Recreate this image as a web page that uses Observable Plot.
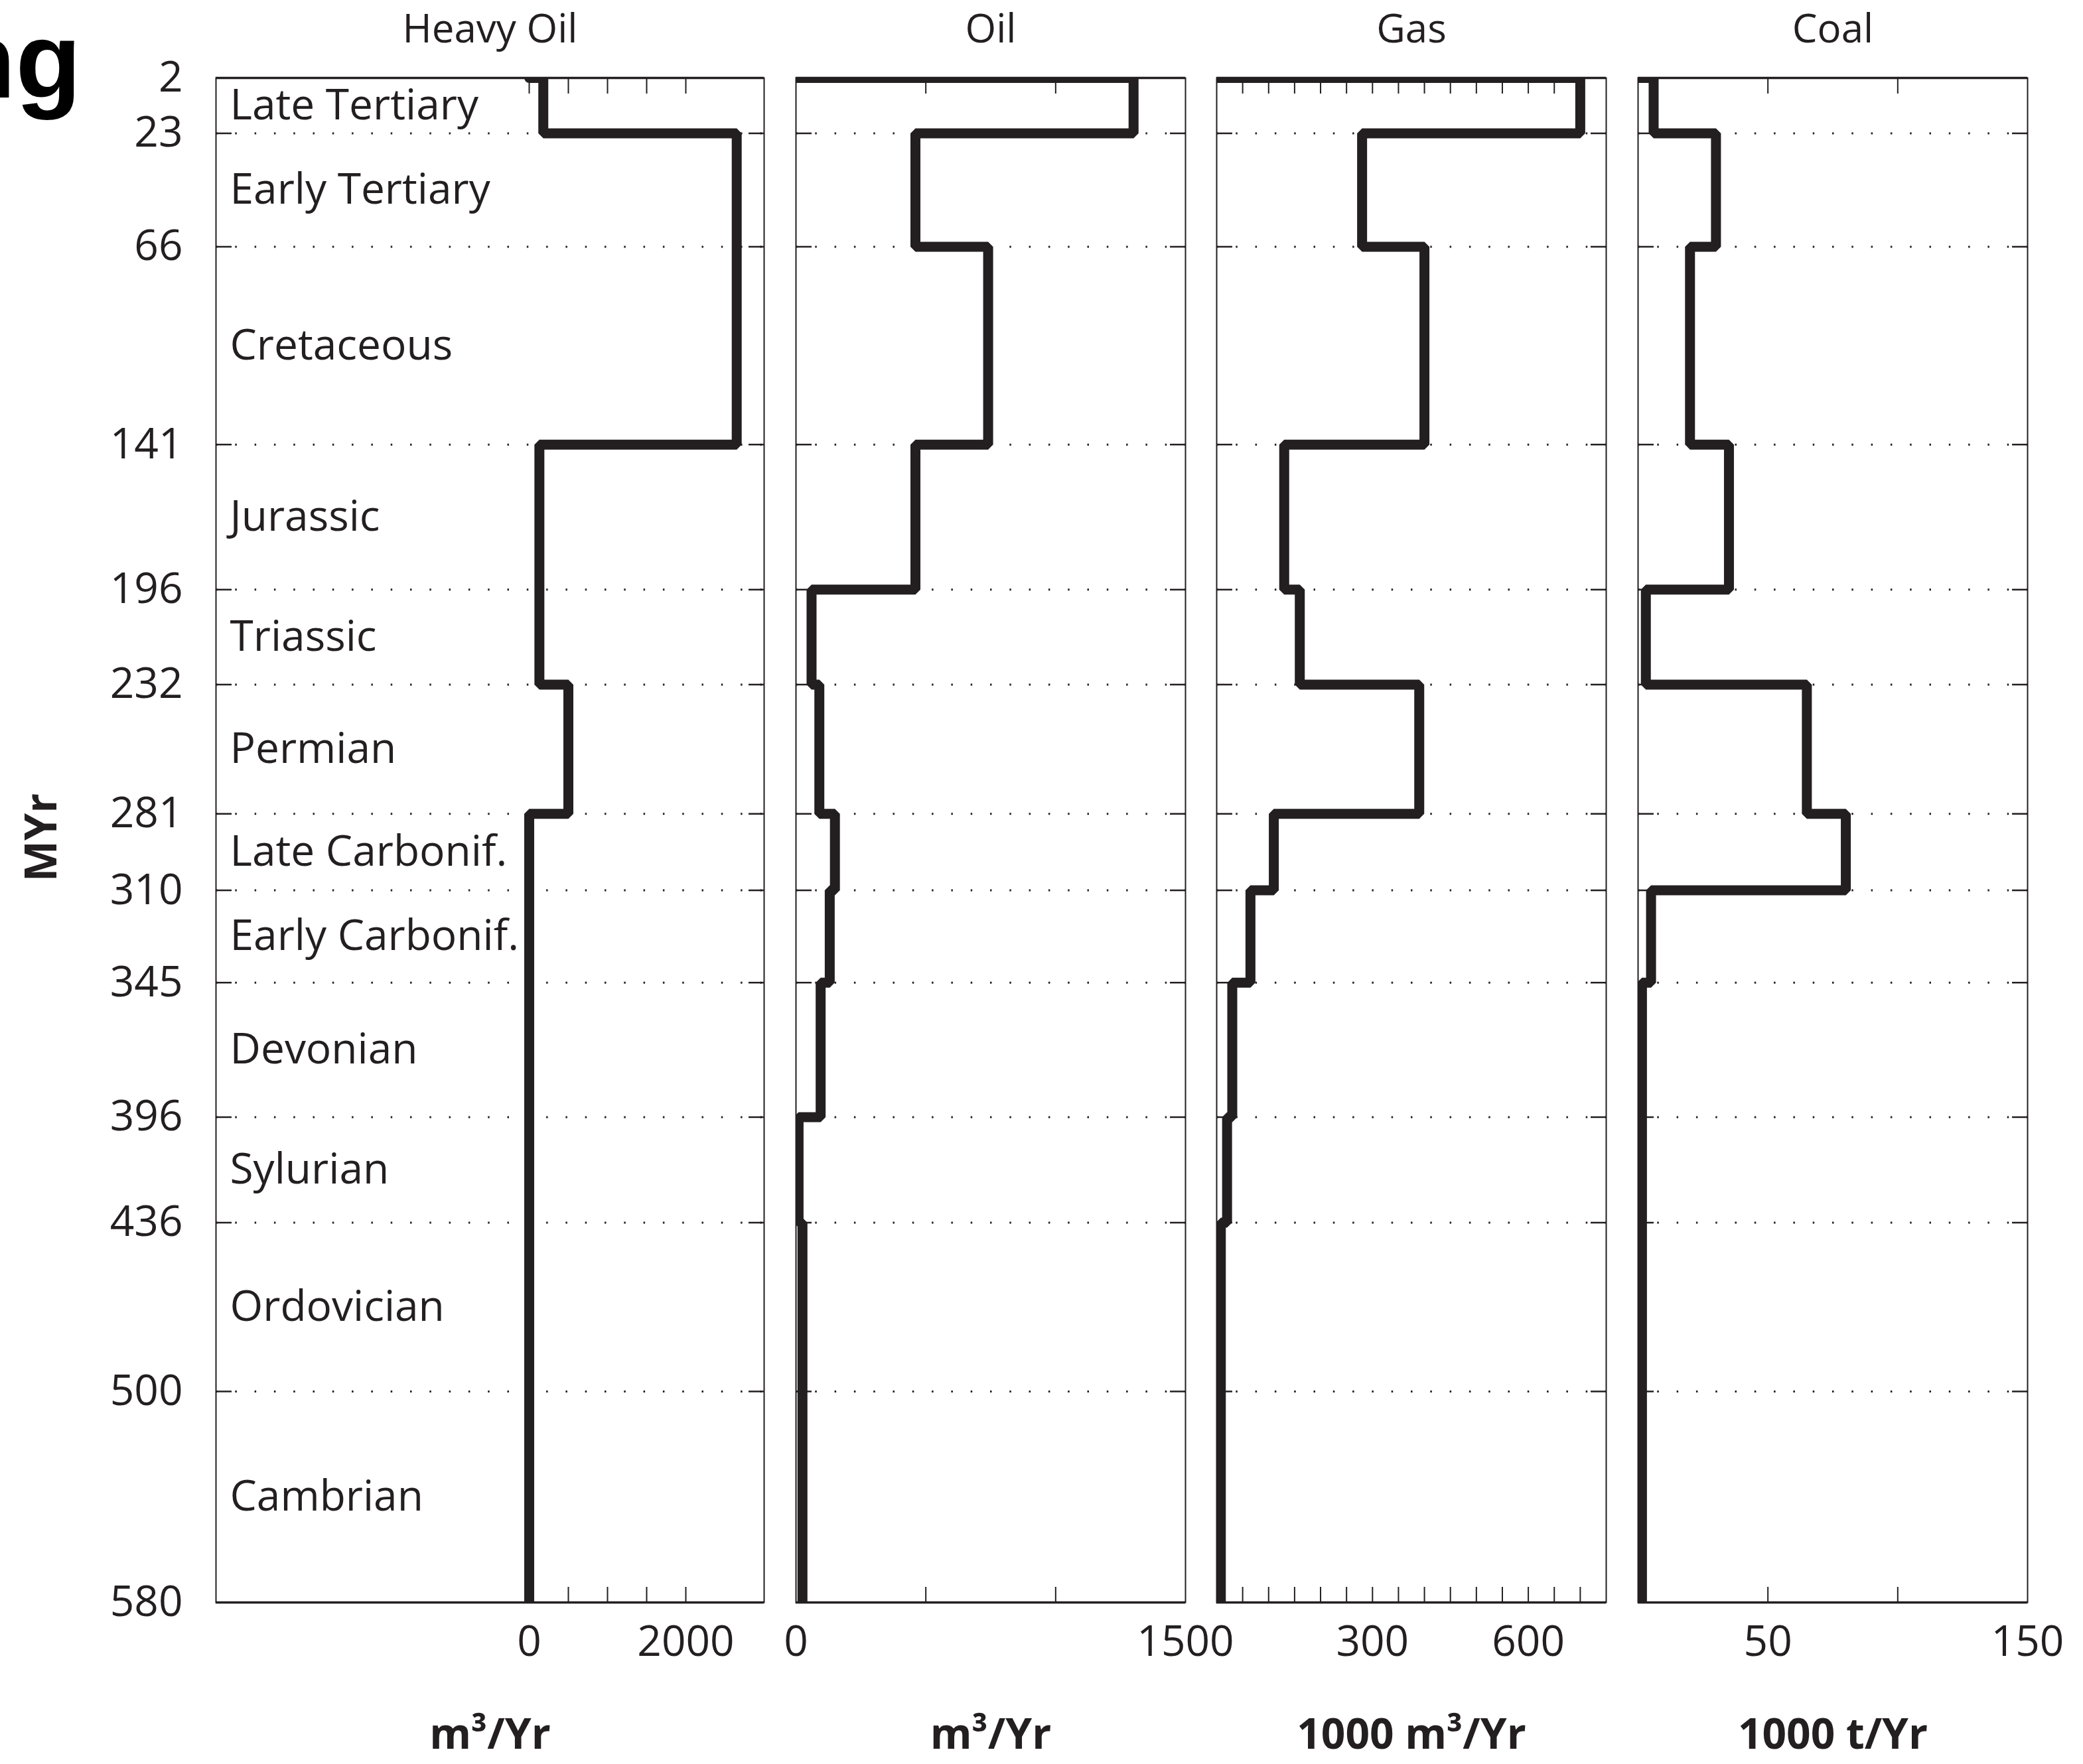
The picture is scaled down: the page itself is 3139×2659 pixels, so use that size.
<!DOCTYPE html>
<html>
<head>
<meta charset="utf-8">
<script src="https://cdn.jsdelivr.net/npm/d3@7"></script>
<script src="https://cdn.jsdelivr.net/npm/@observablehq/plot@0.6"></script>
<style>
html, body { margin: 0; padding: 0; background: #fff; }
#chart { position: relative; width: 3139px; height: 2659px; overflow: hidden; background: #fff; }
#chart svg { position: absolute; left: 0; top: 0; }
</style>
</head>
<body>
<div id="chart"></div>
<script>
// ---------- data ----------
const boundaries = [2, 23, 66, 141, 196, 232, 281, 310, 345, 396, 436, 500, 580];
const periods = ["Late Tertiary", "Early Tertiary", "Cretaceous", "Jurassic", "Triassic", "Permian",
  "Late Carbonif.", "Early Carbonif.", "Devonian", "Sylurian", "Ordovician", "Cambrian"];
const heavyOil = [180, 2650, 2650, 130, 130, 500, 0, 0, 0, 0, 0, 0];
const oil = [1300, 460, 740, 460, 60, 90, 150, 130, 95, 10, 25, 25];
const gas = [700, 280, 400, 130, 160, 390, 110, 65, 30, 20, 8, 8];
const coal = [6, 30, 20, 35, 3, 65, 80, 5, 1.5, 1.5, 1.5, 1.5];

const panelTitles = ["Heavy Oil", "Oil", "Gas", "Coal"];
const unitLabels = ["m³/Yr", "m³/Yr", "1000 m³/Yr", "1000 t/Yr"];
const xDomains = [[-4000, 3000], [0, 1500], [0, 750], [0, 150]];
const xTicks = [
  [0, 500, 1000, 1500, 2000],
  [500, 1000],
  [50, 100, 150, 200, 250, 300, 350, 400, 450, 500, 550, 600, 650, 700],
  [50, 100]
];
const xTickLabels = [[0, 2000], [0, 1500], [300, 600], [50, 150]];
const yAxisLabel = "MYr";
const clippedTitle = "ng";

// ---------- layout ----------
const W = 3139, H = 2659;
const frames = [[325, 1151], [1199, 1786], [1833, 2420], [2468, 3055]];
const ink = "#231f20";
const series = [heavyOil, oil, gas, coal];

function stepPoints(values) {
  const pts = [{x: 0, y: boundaries[0]}];
  values.forEach((v, k) => {
    pts.push({x: v, y: boundaries[k]});
    pts.push({x: v, y: boundaries[k + 1]});
  });
  return pts;
}

const inner = boundaries.slice(1, -1);
const container = document.getElementById("chart");

series.forEach((values, i) => {
  const [fl, fr] = frames[i];
  const marks = [
    Plot.ruleY(inner, {stroke: ink, strokeWidth: 3, strokeDasharray: "2.5,26.8"}),
    Plot.axisY(inner, {anchor: "left", tickSize: -24, tickFormat: () => "", stroke: ink, strokeWidth: 2.5, label: null}),
    Plot.axisY(inner, {anchor: "right", tickSize: -24, tickFormat: () => "", stroke: ink, strokeWidth: 2.5, label: null}),
    Plot.axisX(xTicks[i], {anchor: "top", tickSize: -23, tickFormat: () => "", stroke: ink, strokeWidth: 2, label: null}),
    Plot.axisX(xTicks[i], {anchor: "bottom", tickSize: -23, tickFormat: () => "", stroke: ink, strokeWidth: 2, label: null}),
    Plot.axisX(xTickLabels[i], {anchor: "bottom", tickSize: 0, tickPadding: 35, fontSize: 64, tickFormat: d => String(d), fill: ink, label: null}),
    Plot.frame({stroke: ink, strokeWidth: 2}),
    Plot.ruleY([boundaries[0], boundaries[boundaries.length - 1]], {stroke: ink, strokeWidth: 3.5}),
    Plot.line(stepPoints(values), {x: "x", y: "y", stroke: ink, strokeWidth: 15, strokeLinejoin: "miter", clip: true}),
    Plot.text([panelTitles[i]], {text: d => d, frameAnchor: "top", lineAnchor: "middle", textAnchor: "middle", dy: -73, fontSize: 60, fill: ink}),
    Plot.text([unitLabels[i]], {text: d => d, frameAnchor: "bottom", lineAnchor: "middle", textAnchor: "middle", dy: 200, fontSize: 64, fontWeight: "bold", fill: ink})
  ];
  if (i === 0) {
    marks.push(
      Plot.axisY(boundaries, {anchor: "left", tickSize: 0, tickPadding: 50, fontSize: 64, tickFormat: d => String(d), fill: ink, label: null}),
      Plot.text(periods, {
        y: (d, k) => (boundaries[k] + boundaries[k + 1]) / 2,
        text: d => d, frameAnchor: "left", dx: 21, textAnchor: "start", lineAnchor: "middle", fontSize: 64, fill: ink
      }),
      Plot.text([yAxisLabel], {text: d => d, frameAnchor: "left", textAnchor: "middle", lineAnchor: "middle", dx: -262, dy: -4, rotate: -90, fontSize: 66, fontWeight: "bold", fill: ink}),
      Plot.text([clippedTitle], {text: d => d, frameAnchor: "top-left", lineAnchor: "middle", dx: -203, dy: -22, textAnchor: "end", fontSize: 162, fontWeight: "bold", fontFamily: "'Liberation Sans', Arial, sans-serif", fill: "#000"})
    );
  }
  const svg = Plot.plot({
    width: W,
    height: H,
    marginLeft: fl,
    marginRight: W - fr,
    marginTop: 117,
    marginBottom: H - 2415,
    x: {domain: xDomains[i], label: null},
    y: {domain: [boundaries[0], boundaries[boundaries.length - 1]], reverse: true, label: null},
    style: {background: "transparent", overflow: "visible", fontFamily: "'Open Sans', sans-serif", color: ink},
    marks
  });
  container.appendChild(svg);
});
</script>
</body>
</html>
